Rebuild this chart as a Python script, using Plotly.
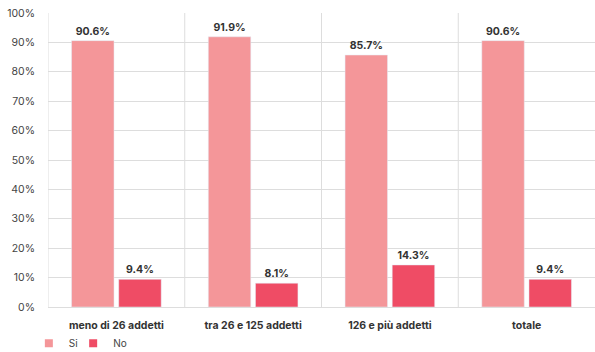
import plotly.graph_objects as go

categories = ["meno di 26 addetti", "tra 26 e 125 addetti", "126 e più addetti", "totale"]
si_values = [90.6, 91.9, 85.7, 90.6]
no_values = [9.4, 8.1, 14.3, 9.4]
series_names = ["Si", "No"]
colors = ["#F49699", "#EF4C65"]
legend_ids = ["legend", "legend2"]

fig = go.Figure()
for name, vals, col, lg in zip(series_names, [si_values, no_values], colors, legend_ids):
    fig.add_trace(go.Bar(
        x=categories, y=vals, name=name, marker_color=col,
        text=[f"{v:.1f}%" for v in vals], textposition="outside",
        textfont=dict(family="Inter", size=10.5, color="#333333", weight="bold"),
        cliponaxis=False, showlegend=False,
    ))
    fig.add_trace(go.Scatter(
        x=[None], y=[None], mode="markers", name=name, legend=lg,
        marker=dict(symbol="square", size=8, color=col),
    ))

for b in [-0.5, 0.5, 1.5, 2.5]:
    fig.add_shape(type="line", xref="x", yref="y", x0=b, x1=b, y0=0, y1=100,
                  line=dict(color="#dddddd", width=1), layer="below")

leg_common = dict(orientation="h", xanchor="left", yref="container", y=0.025,
                  yanchor="middle", font=dict(family="Inter", size=10, color="#444444"),
                  itemwidth=30, bgcolor="rgba(0,0,0,0)")

fig.update_layout(
    width=595, height=352,
    margin=dict(l=48, r=0, t=13, b=45, autoexpand=False),
    plot_bgcolor="white", paper_bgcolor="white",
    barmode="group", bargap=0.31, bargroupgap=0.1,
    font=dict(family="Inter", size=10.5, color="#444444"),
    xaxis=dict(showgrid=False, showline=False, ticks="", ticklabelstandoff=10,
               tickfont=dict(family="Inter", size=10.5, color="#333333", weight="bold"),
               range=[-0.5, 3.5]),
    yaxis=dict(range=[0, 100], dtick=10, ticksuffix="%", showgrid=True,
               gridcolor="#dddddd", gridwidth=1, zeroline=True, zerolinecolor="#dddddd",
               zerolinewidth=1, showline=False, ticks="", ticklabelstandoff=12,
               tickfont=dict(family="Inter", size=10.5, color="#444444")),
    legend=dict(x=-0.035, **leg_common),
    legend2=dict(x=0.046, **leg_common),
)

fig.write_html("out.html")
